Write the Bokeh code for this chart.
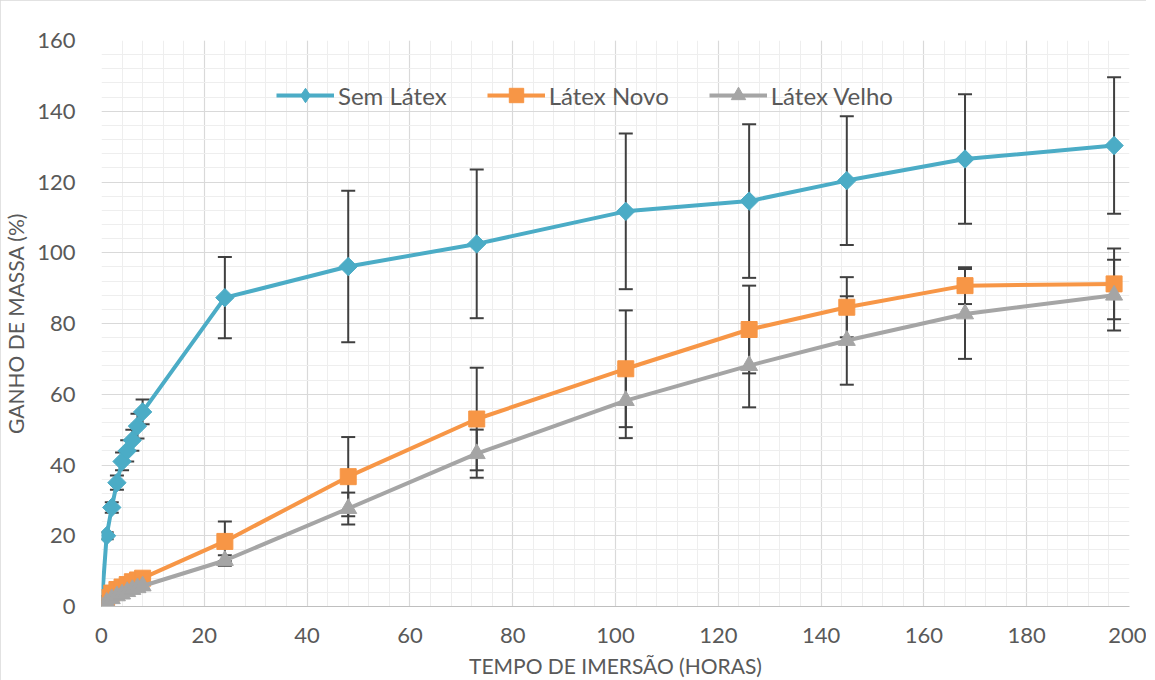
import numpy as np
from bokeh.plotting import figure
from bokeh.models import (ColumnDataSource, SingleIntervalTicker, Legend, LegendItem,
                          Whisker, TeeHead)
from bokeh.embed import file_html
from bokeh.resources import INLINE

# ---- data ----
tempo = [0, 1, 2, 3, 4, 5, 6, 7, 8, 24, 48, 73, 102, 126, 145, 168, 197]

sem_latex = [0, 20, 28, 35, 41, 44, 47, 51, 55, 87.3, 96.1, 102.5, 111.7, 114.6, 120.4, 126.5, 130.3]
sem_err = [0, 1, 1.5, 2, 2.5, 3, 3, 3.5, 3.5, 11.5, 21.4, 21, 22, 21.7, 18.2, 18.3, 19.3]

latex_novo = [0, 2.5, 3.8, 4.8, 5.5, 6.2, 7, 7.5, 8, 18.4, 36.7, 53.0, 67.2, 78.3, 84.6, 90.7, 91.2]
novo_err = [0, 0.5, 0.5, 0.7, 0.8, 0.8, 1, 1, 1, 5.6, 11.2, 14.5, 16.5, 12.4, 8.5, 5.2, 10]

latex_velho = [0, 1.2, 2.2, 3, 3.5, 4.2, 4.8, 5.3, 5.8, 13, 27.7, 43.2, 58.2, 68.1, 75.2, 82.7, 88]
velho_err = [0, 0.3, 0.4, 0.5, 0.5, 0.6, 0.7, 0.8, 0.8, 1.5, 4.5, 6.8, 10.6, 11.8, 12.5, 12.7, 10]

series_names = ["Sem Látex", "Látex Novo", "Látex Velho"]
x_title = "TEMPO DE IMERSÃO (HORAS)"
y_title = "GANHO DE MASSA (%)"

# ---- styling ----
FONT = "Lato"
TXT = "#595959"
C_SEM = "#4BACC6"
C_NOVO = "#F79646"
C_VELHO = "#A5A5A5"
C_ERR = "#404040"

p = figure(frame_width=1028, frame_height=566, output_backend="svg", toolbar_location=None,
           x_range=(0, 200), y_range=(0, 160),
           min_border_left=94, min_border_top=40, min_border_right=17, min_border_bottom=72,
           background_fill_color="white", border_fill_color="white")
p.outline_line_color = None
p.styles = {"outline": "1px solid #D9D9D9", "outline-offset": "-1px"}

xt = SingleIntervalTicker(interval=20, num_minor_ticks=5)
yt = SingleIntervalTicker(interval=20, num_minor_ticks=5)
p.xaxis.ticker = xt
p.yaxis.ticker = yt
p.xgrid.ticker = xt
p.ygrid.ticker = yt

for g in (p.xgrid, p.ygrid):
    g.grid_line_color = "#D9D9D9"
    g.grid_line_width = 1.2
    g.minor_grid_line_color = "#EEEEEE"
    g.minor_grid_line_width = 1

for ax in (p.xaxis, p.yaxis):
    ax.major_tick_line_color = None
    ax.minor_tick_line_color = None
    ax.major_label_text_font = FONT
    ax.major_label_text_color = TXT
    ax.major_label_text_font_size = "22px"
    ax.axis_label_text_font = FONT
    ax.axis_label_text_color = TXT
    ax.axis_label_text_font_size = "21px"
    ax.axis_label_text_font_style = "normal"

p.xaxis.axis_line_color = "#BFBFBF"
p.yaxis.axis_line_color = None
p.xaxis.axis_label = x_title
p.yaxis.axis_label = y_title
p.xaxis.major_label_standoff = 15
p.yaxis.major_label_standoff = 20
p.xaxis.axis_label_standoff = 7
p.yaxis.axis_label_standoff = 6

items = []
specs = [
    (sem_latex, sem_err, C_SEM, dict(marker="square", angle=np.pi / 4, size=13), "diamond"),
    (latex_novo, novo_err, C_NOVO, dict(marker="square", size=16), None),
    (latex_velho, velho_err, C_VELHO, dict(marker="triangle", size=17), None),
]

# error bars first (drawn under the lines)
for vals, errs, col, mk, lm in specs:
    xs = [t for t, e in zip(tempo, errs) if e > 0]
    lo = [v - e for v, e in zip(vals, errs) if e > 0]
    hi = [v + e for v, e in zip(vals, errs) if e > 0]
    src = ColumnDataSource(dict(x=xs, lo=lo, hi=hi))
    w = Whisker(source=src, base="x", lower="lo", upper="hi", dimension="height",
                line_color=C_ERR, line_width=2,
                upper_head=TeeHead(size=14, line_color=C_ERR, line_width=2),
                lower_head=TeeHead(size=14, line_color=C_ERR, line_width=2))
    p.add_layout(w)

for (vals, errs, col, mk, lm), name in zip(specs, series_names):
    src = ColumnDataSource(dict(x=tempo, y=vals))
    r_line = p.line("x", "y", source=src, line_color=col, line_width=4)
    key = None
    if lm is not None:
        # diamond drawn beneath the rotated squares; used for the legend key shape
        key = p.scatter("x", "y", source=src, marker=lm, size=14, fill_color=col, line_color=col)
    r_mark = p.scatter("x", "y", source=src, fill_color=col, line_color=col, **mk)
    items.append(LegendItem(label=name, renderers=[r_line, key if key is not None else r_mark]))

legend = Legend(items=items, orientation="horizontal", location=(175, 493),
                label_text_font=FONT, label_text_font_size="24px", label_text_color=TXT,
                glyph_width=58, glyph_height=36, spacing=40, padding=0, margin=0,
                label_standoff=4, background_fill_alpha=0, border_line_alpha=0)
p.add_layout(legend)

open("out.html", "w").write(file_html(p, INLINE))
